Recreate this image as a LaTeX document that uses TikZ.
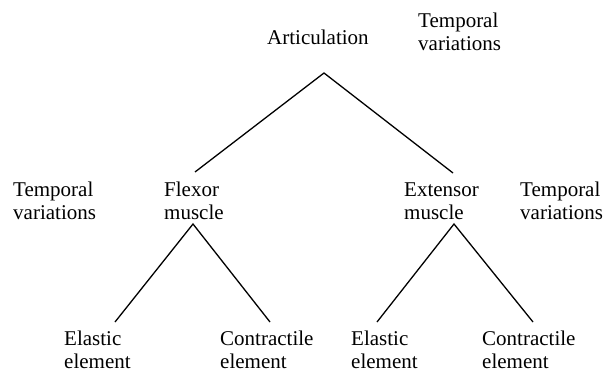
\documentclass[tikz,border=0pt]{standalone}
\usepackage{fontspec}
\setmainfont{Liberation Serif}
\newcommand\tlines[2]{\vtop{\baselineskip=23pt\hbox{#1}\hbox{#2}}}
\begin{document}
\begin{tikzpicture}[x=1pt,y=-1pt,
  lbl/.style={anchor=base west,inner sep=0pt,font=\fontsize{21}{23}\selectfont},
  branch/.style={line width=1.3pt,line join=miter}]
\useasboundingbox (0,0) rectangle (604,372);
\node[lbl] (art) at (267,44) {Articulation};
\node[lbl] (tvtop) at (418,27) {\tlines{Temporal}{variations}};
\node[lbl] (tvleft) at (13,196) {\tlines{Temporal}{variations}};
\node[lbl] (flex) at (164,196) {\tlines{Flexor}{muscle}};
\node[lbl] (ext) at (404,196) {\tlines{Extensor}{muscle}};
\node[lbl] (tvright) at (520,196) {\tlines{Temporal}{variations}};
\node[lbl] (el1) at (64,345) {\tlines{Elastic}{element}};
\node[lbl] (co1) at (220,345) {\tlines{Contractile}{element}};
\node[lbl] (el2) at (351,345) {\tlines{Elastic}{element}};
\node[lbl] (co2) at (482,345) {\tlines{Contractile}{element}};
\coordinate (artP) at (324,73);
\coordinate (flexT) at (195,172);
\coordinate (extT) at (453,173);
\coordinate (flexP) at (193,224);
\coordinate (extP) at (454,224);
\coordinate (el1T) at (115,322);
\coordinate (co1T) at (270,322);
\coordinate (el2T) at (377,322);
\coordinate (co2T) at (533,322);
\draw[branch] (flexT) -- (artP) -- (extT);
\draw[branch] (el1T) -- (flexP) -- (co1T);
\draw[branch] (el2T) -- (extP) -- (co2T);
\end{tikzpicture}
\end{document}
